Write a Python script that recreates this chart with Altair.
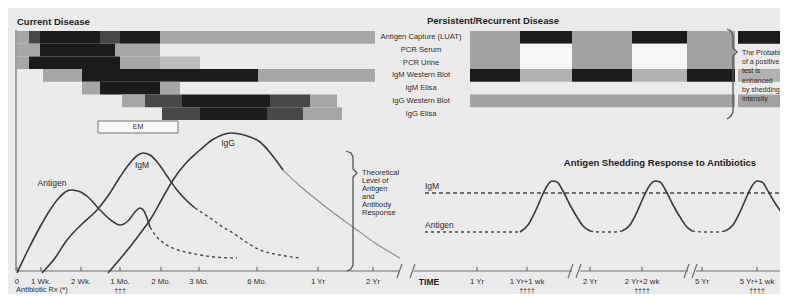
import altair as alt
import pandas as pd

# ---------------- data ----------------
test_rows = ["Antigen Capture (LUAT)", "PCR Serum", "PCR Urine", "IgM Western Blot",
             "IgM Elisa", "IgG Western Blot", "IgG Elisa"]

# Current disease shaded test bars (row index, start, end, shade)
cur_row = [0, 0, 0, 0, 0, 0, 1, 1, 1, 2, 2, 2, 2, 3, 3, 3, 4, 4, 4, 5, 5, 5, 5, 5, 6, 6, 6, 6]
cur_start = [17, 29, 40, 100, 120, 160, 17, 40, 115, 17, 29, 120, 160, 43, 82, 258, 82, 100, 160,
             122, 145, 182, 270, 310, 162, 200, 267, 303]
cur_end = [29, 40, 100, 120, 160, 375, 40, 115, 160, 29, 120, 160, 200, 82, 258, 375, 100, 160, 180,
           145, 182, 270, 310, 337, 200, 267, 303, 342]
cur_shade = ["L", "D", "K", "D", "K", "L", "L", "K", "L", "L", "K", "L", "P", "L", "K", "L", "L", "K", "L",
             "L", "D", "K", "D", "L", "D", "K", "D", "L"]

# Persistent / recurrent disease bars (first row, last row, start, end, shade)
per_row0 = [0, 0, 0, 0, 0, 1, 1, 3, 3, 3, 3, 3, 5, 0, 3, 5]
per_row1 = [2, 0, 2, 0, 2, 2, 2, 3, 3, 3, 3, 3, 5, 0, 3, 5]
per_start = [470, 520, 572, 632, 687, 520, 632, 470, 520, 572, 632, 687, 470, 738, 738, 738]
per_end = [520, 572, 632, 687, 735, 572, 687, 520, 572, 632, 687, 735, 735, 790, 790, 790]
per_shade = ["G", "K", "G", "K", "G", "W", "W", "K", "M", "K", "M", "K", "G", "K", "M", "G"]

# Theoretical antigen / antibody curves
antigen_x = [17, 28, 40, 50, 58, 64, 70, 78, 88, 100, 112, 120, 128, 135, 140, 144, 147, 150]
antigen_y = [273, 250, 227, 210, 199, 193, 190, 191, 197, 210, 221, 225, 221, 212, 208, 211, 218, 227]
antigen_tail_x = [150, 156, 165, 178, 195, 215, 237]
antigen_tail_y = [227, 236, 244, 250, 254, 257, 258]
igm_x = [42, 55, 67, 82, 97, 110, 120, 130, 138, 143, 150, 158, 167, 177, 187, 195]
igm_y = [273, 258, 240, 224, 210, 193, 177, 163, 155, 153, 155, 163, 176, 190, 201, 208]
igm_tail_x = [195, 204, 213, 223, 233, 246, 260, 280, 300]
igm_tail_y = [208, 214, 220, 227, 233, 242, 250, 255, 258]
igg_x = [108, 120, 133, 142, 150, 162, 173, 186, 200, 212, 222, 230, 240, 250, 260, 272, 283]
igg_y = [273, 259, 243, 231, 220, 199, 180, 163, 150, 140, 135, 133, 134, 137, 142, 155, 170]
igg_tail_x = [283, 300, 317, 335, 353, 375, 400]
igg_tail_y = [170, 186, 200, 214, 227, 243, 258]

# Antigen shedding response (solid bumps, dashed troughs)
bump1_x = [520, 528, 535, 542, 547, 552, 557, 563, 570, 577, 583, 590]
bump1_y = [232, 225, 212, 196, 186, 181, 182, 191, 205, 217, 226, 231]
bump2_x = [622, 630, 637, 644, 650, 655, 660, 666, 673, 680, 686, 692]
bump2_y = [231, 225, 212, 196, 185, 181, 182, 191, 205, 217, 226, 231]
bump3_x = [725, 733, 740, 747, 752, 757, 762, 768, 775, 782, 790]
bump3_y = [231, 225, 212, 196, 186, 181, 182, 191, 203, 213, 222]
trough0_x = [425, 520]
trough0_y = [232, 232]
trough1_x = [590, 600, 612, 622]
trough1_y = [231, 232, 232, 231]
trough2_x = [692, 705, 718, 725]
trough2_y = [231, 232, 232, 231]
shed_igm_x = [425, 790]
shed_igm_y = [193, 193]

# Braces
brace_top_x = [727, 731, 733, 733, 737, 733, 733, 731, 727]
brace_top_y = [29, 31, 36, 48, 52, 56, 112, 116, 119]
brace_low_x = [346, 351, 353, 353, 357, 353, 353, 351, 347]
brace_low_y = [151, 153, 157, 169, 173, 177, 265, 269, 271]

# Time axes
left_ticks = [17, 41, 81, 120, 161, 199, 257, 318, 373]
left_tick_labels = ["0", "1 Wk.", "2 Wk.", "1 Mo.", "2 Mo.", "3 Mo.", "6 Mo.", "1 Yr", "2 Yr"]
right_ticks = [477, 527, 590, 642, 702, 757]
right_tick_labels = ["1 Yr", "1 Yr+1 wk", "2 Yr", "2 Yr+2 wk", "5 Yr", "5 Yr+1 wk"]
rx_marks = ["\u2020\u2020\u2020", "\u2020\u2020\u2020\u2020", "\u2020\u2020\u2020\u2020", "\u2020\u2020\u2020\u2020"]
rx_pos = [120, 527, 642, 757]
axis_seg_start = [17, 414, 580, 696]
axis_seg_end = [399, 572, 688, 790]
break_x0 = [397, 410, 568, 576, 684, 692]
break_x1 = [402, 415, 573, 581, 689, 697]

bracket_text = ["Theoretical", "Level of", "Antigen", "and", "Antibody", "Response"]
prob_text = ["The Probability", "of a positive", "test is", "enhanced", "by shedding", "intensity"]

# ---------------- styling ----------------
BG = "#ebebeb"
INK = "#2e2e2e"
FONT = "Liberation Sans"
SHADES = {"K": "#1b1b1b", "D": "#474747", "L": "#a6a6a6", "P": "#bebebe",
          "G": "#a2a2a2", "M": "#b2b2b2", "W": "#f7f7f7"}
ROW_TOP = 31
ROW_H = 12.7

xs = alt.Scale(domain=[8, 780])
ys = alt.Scale(domain=[8, 294], reverse=True)


def X(f):
    return alt.X(f"{f}:Q", scale=xs, axis=None)


def Y(f):
    return alt.Y(f"{f}:Q", scale=ys, axis=None)


# ---------------- tables ----------------
cur_df = pd.DataFrame({
    "x0": cur_start, "x1": cur_end,
    "y0": [ROW_TOP + r * ROW_H for r in cur_row],
    "y1": [ROW_TOP + (r + 1) * ROW_H for r in cur_row],
    "c": [SHADES[s] for s in cur_shade],
})
per_df = pd.DataFrame({
    "x0": per_start, "x1": per_end,
    "y0": [ROW_TOP + r * ROW_H for r in per_row0],
    "y1": [ROW_TOP + (r + 1) * ROW_H for r in per_row1],
    "c": [SHADES[s] for s in per_shade],
})
bars_df = pd.concat([cur_df, per_df], ignore_index=True)


def lines(pairs):
    rows = []
    for sid, (xv, yv) in enumerate(pairs):
        for o, (a, b) in enumerate(zip(xv, yv)):
            rows.append({"x": a, "y": b, "seg": sid, "o": o})
    return pd.DataFrame(rows)


solid_df = lines([(antigen_x, antigen_y), (igm_x, igm_y), (igg_x, igg_y),
                  (bump1_x, bump1_y), (bump2_x, bump2_y), (bump3_x, bump3_y)])
dash_df = lines([(antigen_tail_x, antigen_tail_y), (igm_tail_x, igm_tail_y),
                 (trough0_x, trough0_y), (trough1_x, trough1_y), (trough2_x, trough2_y)])
igmline_df = lines([(shed_igm_x, shed_igm_y)])
fade_df = lines([(igg_tail_x, igg_tail_y)])
brace_df = lines([(brace_top_x, brace_top_y), (brace_low_x, brace_low_y)])

rules_df = pd.DataFrame(
    [{"x0": a, "x1": b, "y0": 271, "y1": 271} for a, b in zip(axis_seg_start, axis_seg_end)]
    + [{"x0": t, "x1": t, "y0": 267, "y1": 271} for t in left_ticks + right_ticks]
    + [{"x0": a, "x1": b, "y0": 278, "y1": 264} for a, b in zip(break_x0, break_x1)]
    + [{"x0": 16, "x1": 16, "y0": 30, "y1": 271}]
)

em_df = pd.DataFrame({"x0": [98], "x1": [178], "y0": [121], "y1": [133]})

center_txt = pd.DataFrame(
    [{"x": 421, "y": ROW_TOP + (i + 0.5) * ROW_H, "t": t, "s": 7.6} for i, t in enumerate(test_rows)]
    + [{"x": 138, "y": 127, "t": "EM", "s": 7},
       {"x": 52, "y": 183, "t": "Antigen", "s": 8.5},
       {"x": 142, "y": 165, "t": "IgM", "s": 8.5},
       {"x": 228, "y": 143, "t": "IgG", "s": 8.5}]
    + [{"x": p, "y": 282, "t": t, "s": 7.8} for p, t in zip(left_ticks, left_tick_labels)]
    + [{"x": p, "y": 282, "t": t, "s": 7.8} for p, t in zip(right_ticks, right_tick_labels)]
)
left_txt = pd.DataFrame(
    [{"x": 362, "y": 173 + 8 * i, "t": t, "s": 7.5} for i, t in enumerate(bracket_text)]
    + [{"x": 742, "y": 53 + 9.2 * i, "t": t, "s": 7} for i, t in enumerate(prob_text)]
    + [{"x": 425, "y": 186, "t": "IgM", "s": 8.5},
       {"x": 425, "y": 225, "t": "Antigen", "s": 8.5}]
)
bottom_txt = pd.DataFrame(
    [{"x": 16, "y": 294, "t": "Antibiotic Rx (*)", "s": 7.5, "a": "left"}]
    + [{"x": p, "y": 294, "t": t, "s": 7, "a": "center"} for p, t in zip(rx_pos, rx_marks)]
)
bold_center = pd.DataFrame([
    {"x": 493, "y": 21, "t": "Persistent/Recurrent Disease", "s": 9.5},
    {"x": 660, "y": 163, "t": "Antigen Shedding Response to Antibiotics", "s": 9.5},
    {"x": 429, "y": 282, "t": "TIME", "s": 8.5},
])
bold_left = pd.DataFrame([{"x": 17, "y": 22, "t": "Current Disease", "s": 9.5}])

# ---------------- layers ----------------
bars = alt.Chart(bars_df).mark_rect(clip=True).encode(
    x=X("x0"), x2="x1", y=Y("y0"), y2="y1", color=alt.Color("c:N", scale=None))

em_box = alt.Chart(em_df).mark_rect(fill="#f8f8f8", stroke="#777777", strokeWidth=1).encode(
    x=X("x0"), x2="x1", y=Y("y0"), y2="y1")

rules = alt.Chart(rules_df).mark_rule(color="#6f6f6f", strokeWidth=1.2, clip=True).encode(
    x=X("x0"), x2="x1", y=Y("y0"), y2="y1")

solid = alt.Chart(solid_df).mark_line(color="#3a3a3a", strokeWidth=1.6, interpolate="monotone",
                                      clip=True).encode(
    x=X("x"), y=Y("y"), detail="seg:N", order="o:Q")
dashed = alt.Chart(dash_df).mark_line(color="#4a4a4a", strokeWidth=1.4, strokeDash=[3, 3],
                                      interpolate="monotone", clip=True).encode(
    x=X("x"), y=Y("y"), detail="seg:N", order="o:Q")
igm_line = alt.Chart(igmline_df).mark_line(color="#4a4a4a", strokeWidth=1.3, strokeDash=[4, 3],
                                           clip=True).encode(
    x=X("x"), y=Y("y"), detail="seg:N", order="o:Q")
faded = alt.Chart(fade_df).mark_line(color="#8c8c8c", strokeWidth=1.1, interpolate="monotone",
                                     clip=True).encode(
    x=X("x"), y=Y("y"), detail="seg:N", order="o:Q")
braces = alt.Chart(brace_df).mark_line(color="#555555", strokeWidth=1.3, interpolate="linear",
                                       clip=True).encode(
    x=X("x"), y=Y("y"), detail="seg:N", order="o:Q")

txt_c = alt.Chart(center_txt).mark_text(align="center", baseline="middle", font=FONT, color=INK).encode(
    x=X("x"), y=Y("y"), text="t:N", size=alt.Size("s:Q", scale=None))
txt_l = alt.Chart(left_txt).mark_text(align="left", baseline="middle", font=FONT, color=INK,
                                      clip=True).encode(
    x=X("x"), y=Y("y"), text="t:N", size=alt.Size("s:Q", scale=None))
txt_bottom_l = alt.Chart(bottom_txt).transform_filter(alt.datum.a == "left").mark_text(
    align="left", baseline="bottom", font=FONT, color=INK).encode(
    x=X("x"), y=Y("y"), text="t:N", size=alt.Size("s:Q", scale=None))
txt_bottom_c = alt.Chart(bottom_txt).transform_filter(alt.datum.a == "center").mark_text(
    align="center", baseline="bottom", font=FONT, color=INK).encode(
    x=X("x"), y=Y("y"), text="t:N", size=alt.Size("s:Q", scale=None))
txt_bc = alt.Chart(bold_center).mark_text(align="center", baseline="middle", font=FONT, color="#1e1e1e",
                                          fontWeight="bold").encode(
    x=X("x"), y=Y("y"), text="t:N", size=alt.Size("s:Q", scale=None))
txt_bl = alt.Chart(bold_left).mark_text(align="left", baseline="middle", font=FONT, color="#1e1e1e",
                                        fontWeight="bold").encode(
    x=X("x"), y=Y("y"), text="t:N", size=alt.Size("s:Q", scale=None))

chart = alt.layer(
    bars, em_box, rules, faded, dashed, igm_line, solid, braces,
    txt_c, txt_l, txt_bottom_l, txt_bottom_c, txt_bc, txt_bl
).properties(
    width=772, height=286, padding=0,
    autosize=alt.AutoSizeParams(type="none"),
    background=BG,
).configure_view(stroke=None)

chart.save("out.html", embed_options={"renderer": "svg", "actions": False})
